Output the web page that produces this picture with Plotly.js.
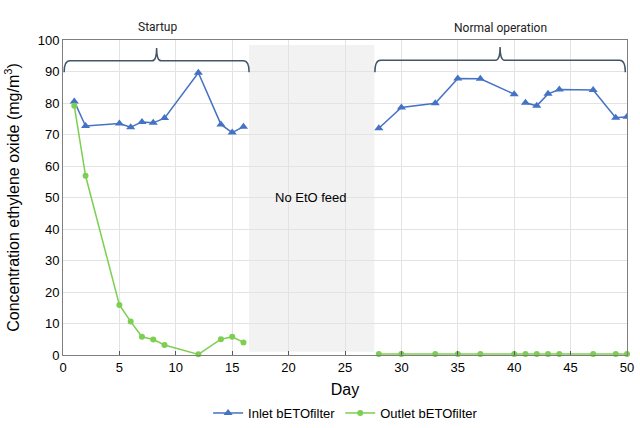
<!DOCTYPE html>
<html>
<head>
<meta charset="utf-8">
<script src="https://cdn.plot.ly/plotly-3.0.1.min.js"></script>
<style>html,body{margin:0;padding:0;background:#fff}#chart{width:640px;height:428px}</style>
</head>
<body>
<div id="chart"></div>
<script>
const days = [1, 2, 5, 6, 7, 8, 9, 12, 14, 15, 16, null, 28, 30, 33, 35, 37, 40, null, 41, 42, 43, 44, 47, 49, 50];
const inlet = [80.5, 72.7, 73.5, 72.3, 74.0, 73.7, 75.2, 89.6, 73.2, 70.6, 72.5, null, 72.0, 78.6, 79.9, 87.8, 87.7, 82.8, null, 80.1, 79.1, 82.9, 84.3, 84.1, 75.3, 75.6];
const outletDays = [1, 2, 5, 6, 7, 8, 9, 12, 14, 15, 16, null, 28, 30, 33, 35, 37, 40, 41, 42, 43, 44, 47, 49, 50];
const outlet = [79.1, 56.9, 15.9, 10.6, 5.8, 4.9, 3.2, 0.2, 5.0, 5.8, 4.0, null, 0.3, 0.3, 0.3, 0.3, 0.3, 0.3, 0.3, 0.3, 0.3, 0.3, 0.3, 0.3, 0.3];
const xTicks = [0, 5, 10, 15, 20, 25, 30, 35, 40, 45, 50];
const yTicks = [0, 10, 20, 30, 40, 50, 60, 70, 80, 90, 100];
const phaseLabels = ["Startup", "Normal operation"];
const gapLabel = "No EtO feed";

const traces = [
  {x: days, y: inlet, name: "Inlet bETOfilter", mode: "lines+markers", connectgaps: false,
   line: {color: "#4472c4", width: 1.5}, marker: {symbol: "triangle-up", size: 8, color: "#4472c4"}},
  {x: outletDays, y: outlet, name: "Outlet bETOfilter", mode: "lines+markers", connectgaps: false,
   line: {color: "#7ccf50", width: 1.5}, marker: {symbol: "circle", size: 6, color: "#7ccf50"}, cliponaxis: false}
];

const braceColor = "#44546a";
const layout = {
  width: 640, height: 428,
  margin: {l: 63, r: 13, t: 40, b: 73, autoexpand: false},
  paper_bgcolor: "#fff", plot_bgcolor: "#fff",
  font: {family: "Liberation Sans, Arial, sans-serif", color: "#000", size: 13},
  xaxis: {range: [0, 50], tickvals: xTicks, ticktext: xTicks.map(String), showgrid: true, gridcolor: "#e3e3e3",
    zeroline: false, showline: true, linecolor: "#7f7f7f", mirror: true, ticks: "inside", ticklen: 4, tickcolor: "#595959",
    title: {text: "Day", font: {size: 16}, standoff: 16}, tickfont: {size: 13}, automargin: false},
  yaxis: {range: [0, 100], tickvals: yTicks, ticktext: yTicks.map(String), showgrid: true, gridcolor: "#e3e3e3",
    zeroline: false, showline: true, linecolor: "#7f7f7f", mirror: true, ticks: "",
    title: {text: "Concentration ethylene oxide (mg/m<sup>3</sup>)", font: {size: 16}, standoff: 14}, tickfont: {size: 13}, automargin: false},
  showlegend: true,
  legend: {orientation: "h", x: 0.54, xref: "container", xanchor: "center", y: 0.035, yref: "container", yanchor: "middle",
    font: {size: 13}, itemwidth: 30, tracegroupgap: 0},
  shapes: [
    {type: "rect", xref: "x", yref: "y", x0: 16.5, x1: 27.6, y0: 1, y1: 98.4, fillcolor: "#f2f2f2", line: {width: 0}, layer: "below"},
    {type: "path", xref: "x", yref: "y", layer: "above",
     path: "M 0.1 89.8 Q 0.1 93.4 0.6 93.4 L 7.9 93.4 Q 8.3 93.4 8.3 97.5 Q 8.3 93.4 8.7 93.4 L 16.0 93.4 Q 16.5 93.4 16.5 89.8",
     line: {color: braceColor, width: 1.5}},
    {type: "path", xref: "x", yref: "y", layer: "above",
     path: "M 27.65 89.8 Q 27.65 93.6 28.15 93.6 L 38.35 93.6 Q 38.75 93.6 38.75 97.8 Q 38.75 93.6 39.15 93.6 L 49.35 93.6 Q 49.85 93.6 49.85 89.8",
     line: {color: braceColor, width: 1.5}}
  ],
  annotations: [
    {x: 8.4, y: 1.07, xref: "x", yref: "paper", text: phaseLabels[0], showarrow: false, font: {family: "Roboto, sans-serif", size: 12, color: "#222"}},
    {x: 38.8, y: 1.067, xref: "x", yref: "paper", text: phaseLabels[1], showarrow: false, font: {family: "Roboto, sans-serif", size: 12, color: "#222"}},
    {x: 22.0, y: 50, xref: "x", yref: "y", text: gapLabel, showarrow: false, font: {size: 13, color: "#000"}}
  ]
};
Plotly.newPlot("chart", traces, layout, {displayModeBar: false, staticPlot: true});
</script>
</body>
</html>
